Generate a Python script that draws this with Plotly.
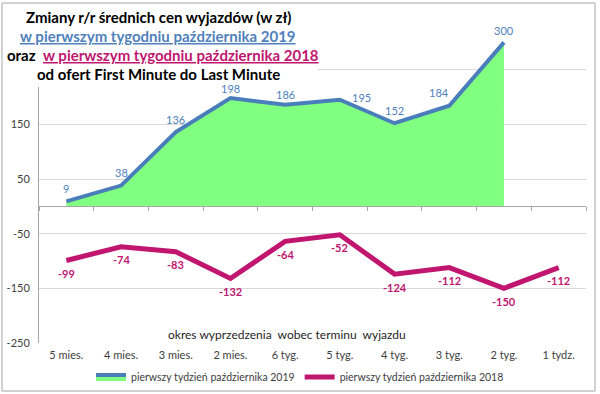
import plotly.graph_objects as go

categories = ["5 mies.", "4 mies.", "3 mies.", "2 mies.", "6 tyg.", "5 tyg.", "4 tyg.", "3 tyg.", "2 tyg.", "1 tydz."]
values_2019 = [9, 38, 136, 198, 186, 195, 152, 184, 300]
values_2018 = [-99, -74, -83, -132, -64, -52, -124, -112, -150, -112]
y_ticks = [-250, -150, -50, 50, 150, 250, 350]
y_ticktext = ["-250", "-150", "-50", "50", "150", "", ""]

name_2019 = "pierwszy tydzień października 2019"
name_2018 = "pierwszy tydzień października 2018"

BLUE = "#4A7EBB"
BLUE_TXT = "#4F81BD"
MAG = "#C0166F"
GREEN = "#80FF80"
FONT = "Lato"

W, H = 600, 394
L, R, T, B = 39, 14, 15, 51
PW, PH = W - L - R, H - T - B


def px(x):
    return (x - L) / PW


def py(y):
    return (H - B - y) / PH


fig = go.Figure()

fig.add_trace(go.Scatter(
    x=categories[:len(values_2019)], y=values_2019, name=name_2019,
    mode="lines", fill="tozeroy", fillcolor=GREEN,
    line=dict(color=BLUE, width=4), hoverinfo="x+y",
))
fig.add_trace(go.Scatter(
    x=categories, y=values_2018, name=name_2018,
    mode="lines",
    line=dict(color=MAG, width=5), hoverinfo="x+y",
))
# dummy trace for the zero-line axis with tick marks
fig.add_trace(go.Scatter(x=[0], y=[0], xaxis="x2", mode="markers",
                         marker=dict(opacity=0), showlegend=False, hoverinfo="skip"))

fig.update_layout(
    width=W, height=H,
    margin=dict(l=L, r=R, t=T, b=B, autoexpand=False),
    paper_bgcolor="white", plot_bgcolor="white",
    font=dict(family=FONT, size=11, color="#404040"),
    xaxis=dict(
        type="category", range=[-0.5, 9.5], showgrid=False, showline=False,
        ticks="", tickfont=dict(family=FONT, size=11, color="#404040"),
        zeroline=False, automargin=False, ticklabelstandoff=4,
    ),
    xaxis2=dict(
        overlaying="x", anchor="free", position=250 / 600,
        range=[-0.5, 9.5], tickvals=[i + 0.5 for i in range(-1, 10)],
        showticklabels=False, ticks="outside", ticklen=4, tickcolor="#A6A6A6",
        showline=True, linecolor="#A6A6A6", linewidth=1, showgrid=False, zeroline=False,
    ),
    yaxis=dict(
        range=[-250, 350], tickvals=y_ticks, ticktext=y_ticktext,
        showgrid=True, gridcolor="#D9D9D9", gridwidth=1,
        showline=True, linecolor="#A6A6A6", linewidth=1,
        zeroline=False, ticks="", ticklabelstandoff=6, automargin=False,
        tickfont=dict(family=FONT, size=11, color="#404040"),
    ),
    legend=dict(
        orientation="h", x=px(300), xanchor="center", y=py(377), yanchor="middle",
        font=dict(family=FONT, size=10.5, color="#404040"),
        itemwidth=30, tracegroupgap=0, bgcolor="rgba(0,0,0,0)",
    ),
    showlegend=True,
)

shapes = [
    # title background
    dict(type="rect", xref="paper", yref="paper", x0=px(3), x1=px(318), y0=py(87), y1=py(4),
         fillcolor="white", line=dict(width=0), layer="above"),
    # outer border
    dict(type="rect", xref="paper", yref="paper", x0=px(2), x1=px(595), y0=py(391), y1=py(3),
         fillcolor="rgba(0,0,0,0)", line=dict(color="#A6A6A6", width=1), layer="above"),
]
fig.update_layout(shapes=shapes)

ann = []
# data labels
shift_2019 = [(0, 13), (0, 13), (0, 12), (0, 10), (0, 10), (22, 2), (0, 13), (-10, 13), (0, 12)]
for c, v, (dx, dy) in zip(categories, values_2019, shift_2019):
    ann.append(dict(text=str(v), x=c, y=v, xref="x", yref="y", xshift=dx, yshift=dy,
                    font=dict(family=FONT, size=11, color=BLUE_TXT),
                    xanchor="center", yanchor="middle", showarrow=False))
for c, v in zip(categories, values_2018):
    ann.append(dict(text=f"<b>{v}</b>", x=c, y=v, xref="x", yref="y", yshift=-13,
                    font=dict(family=FONT, size=11, color=MAG),
                    xanchor="center", yanchor="middle", showarrow=False))

cx = px(158)
big_font = dict(family=FONT, size=15, color="black")
titles = [
    dict(text="<b>Zmiany r/r średnich cen wyjazdów (w zł)</b>", x=cx, y=py(17),
         font=big_font),
    dict(text="<b>w pierwszym tygodniu października 2019</b>", x=cx, y=py(36),
         font=dict(family=FONT, size=15, color=BLUE_TXT, lineposition="under")),
    dict(text="<b>oraz</b>", x=px(38), y=py(55), xanchor="right",
         font=big_font),
    dict(text="<b>w pierwszym tygodniu października 2018</b>", x=px(41), y=py(55), xanchor="left",
         font=dict(family=FONT, size=15, color=MAG, lineposition="under")),
    dict(text="<b>od ofert First Minute do Last Minute</b>", x=cx, y=py(74),
         font=big_font),
    dict(text="okres wyprzedzenia  wobec terminu  wyjazdu", x=px(287), y=py(334),
         font=dict(family=FONT, size=12, color="#262626")),
]
for a in titles:
    a.setdefault("xanchor", "center")
    a.update(xref="paper", yref="paper", yanchor="middle", showarrow=False)
ann.extend(titles)
fig.update_layout(annotations=ann)

fig.write_html("out.html", config={"displayModeBar": False},
               post_script="document.body.style.margin='0';")
